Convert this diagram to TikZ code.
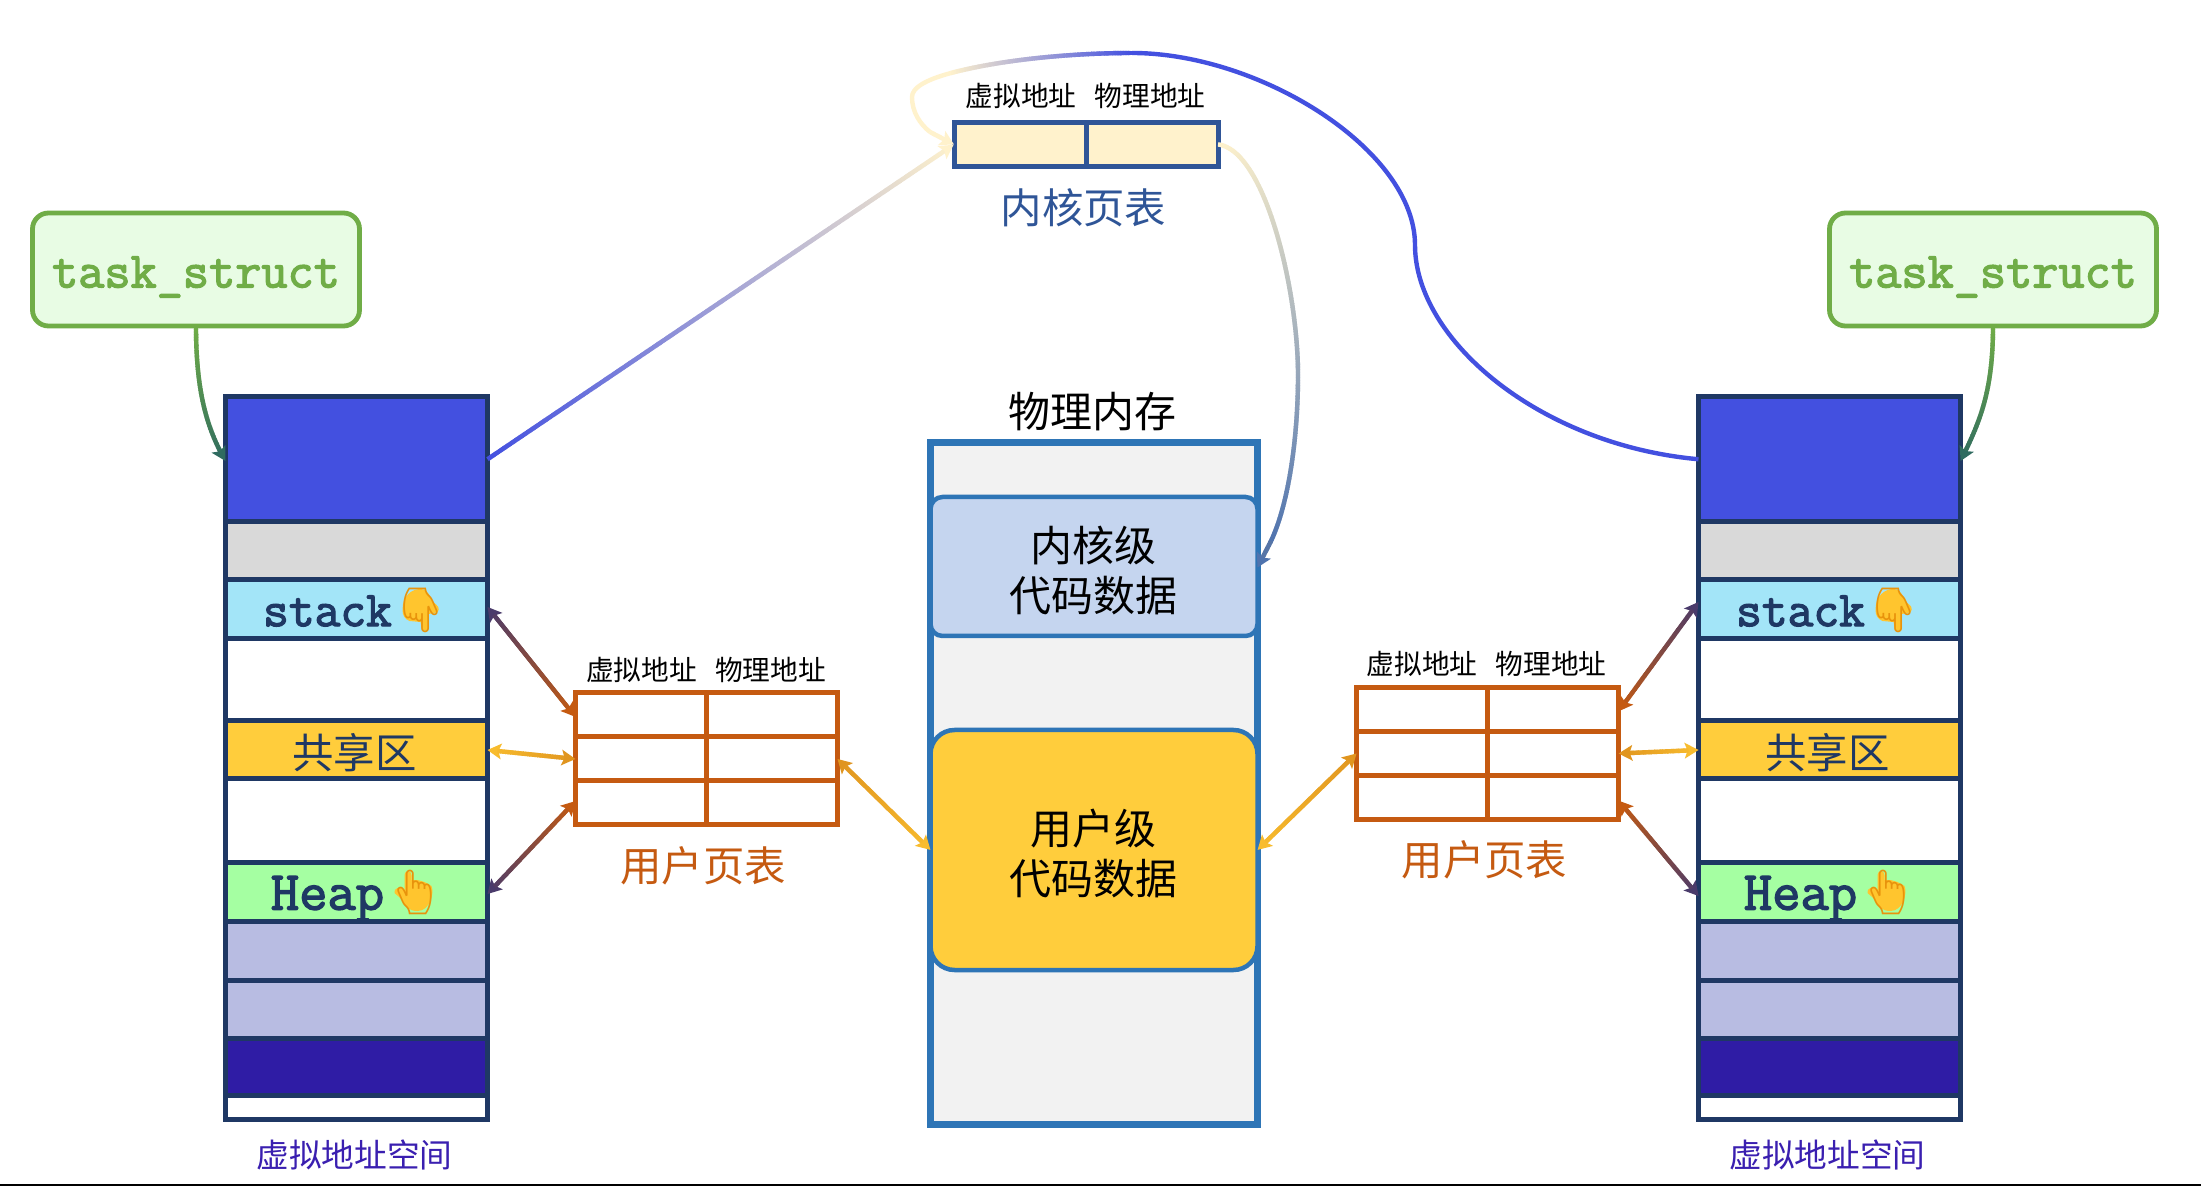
\documentclass[tikz,border=0pt]{standalone}
\usepackage{fontspec}
\usetikzlibrary{decorations.markings}
\setmainfont{Noto Sans CJK SC}
\newfontfamily\slabfont[FakeBold=2.5]{Latin Modern Mono}
\newfontfamily\emojifont{Noto Emoji}
\newcommand{\fs}[1]{\fontsize{#1}{#1}\selectfont}

\definecolor{colframe}{HTML}{1F3864}
\definecolor{tablered}{HTML}{C55A11}
\definecolor{kernelblue}{HTML}{2F5597}
\definecolor{physblue}{HTML}{2E75B6}
\definecolor{taskgreen}{HTML}{70AD47}
\definecolor{taskfill}{HTML}{E8FCE4}
\definecolor{regionblue}{HTML}{4350E0}
\definecolor{regiongray}{HTML}{D9D9D9}
\definecolor{regionstack}{HTML}{A3E5F8}
\definecolor{amber}{HTML}{FFCD3C}
\definecolor{regionheap}{HTML}{A5FFA2}
\definecolor{lavender}{HTML}{B8BCE2}
\definecolor{indigo}{HTML}{2F1CA5}
\definecolor{captionviolet}{HTML}{3A1FB0}
\definecolor{cream}{HTML}{FFF2CC}
\definecolor{physfill}{HTML}{F2F2F2}
\definecolor{kernelfill}{HTML}{C5D5EF}
\definecolor{plum}{HTML}{4A3B6B}
\definecolor{teal}{HTML}{2F6B60}
\definecolor{steel}{HTML}{4F73AE}
\definecolor{linkamber}{HTML}{F8BC2E}
\definecolor{linkorange}{HTML}{E0951F}
\definecolor{handyellow}{HTML}{FFC52E}
\definecolor{handline}{HTML}{E8930C}

\tikzset{
  % one band of a virtual address space
  region/.style={draw=colframe, line width=2.5pt, minimum width=131pt, inner sep=0pt, outer sep=0pt, text=colframe},
  % one cell of a page table
  usercell/.style={draw=tablered, line width=2.5pt, minimum width=65.5pt, minimum height=22pt, inner sep=0pt, outer sep=0pt},
  kernelcell/.style={draw=kernelblue, line width=2.5pt, fill=cream, minimum width=66pt, minimum height=22.2pt, inner sep=0pt, outer sep=0pt},
  taskbox/.style={draw=taskgreen, line width=2.4pt, fill=taskfill, rounded corners=8pt, minimum width=163.5pt, minimum height=56.5pt, inner sep=0pt, outer sep=0pt},
  tasklabel/.style={text=taskgreen, inner sep=0pt, font=\slabfont\fs{25.4}},
  memblock/.style={draw=physblue, line width=2.25pt, minimum width=163.5pt, inner sep=0pt, outer sep=0pt},
  memtext/.style={font=\fs{21}, text=black, inner sep=0pt},
  smallhead/.style={font=\fs{13.85}, text=black, inner sep=0pt},
  bigcaption/.style={font=\fs{20.7}, inner sep=0pt},
  regiontext/.style={font=\slabfont\fs{25}, text=colframe, inner sep=0pt},
  handglyph/.style={font=\emojifont\fs{22}, text=handline, inner sep=0pt},
  % colour run from #1 to #2 with no head
  fade/.style n args={2}{
    decoration={markings,
      mark=between positions 0pt and -0.1pt step 0.8pt with {
        \pgfmathsetmacro\flowmix{100*(\pgfkeysvalueof{/pgf/decoration/mark info/distance from start}/\pgfdecoratedpathlength)}
        \draw[line width=2.2pt, color={#2!\flowmix!#1}] (0,0) -- (1.2pt,0);
      }
    }, postaction={decorate}},
  % connector whose colour runs from #1 to #2, with an arrow head at its end
  flow/.style n args={2}{
    decoration={markings,
      mark=between positions 0pt and -5pt step 0.8pt with {
        \pgfmathsetmacro\flowmix{100*(\pgfkeysvalueof{/pgf/decoration/mark info/distance from start}/\pgfdecoratedpathlength)}
        \draw[line width=2.2pt, color={#2!\flowmix!#1}] (0,0) -- (1.2pt,0);
      },
      mark=at position 0.999 with {\fill[color=#2] (0,0) -- (-7pt,4pt) -- (-5.5pt,0) -- (-7pt,-4pt) -- cycle;}
    }, postaction={decorate}},
  % the same, with a head at both ends
  flowboth/.style n args={2}{
    decoration={markings,
      mark=at position 0 with {\fill[color=#1] (0,0) -- (7pt,4pt) -- (5.5pt,0) -- (7pt,-4pt) -- cycle;},
      mark=between positions 5pt and -5pt step 0.8pt with {
        \pgfmathsetmacro\flowmix{100*(\pgfkeysvalueof{/pgf/decoration/mark info/distance from start}/\pgfdecoratedpathlength)}
        \draw[line width=2.2pt, color={#2!\flowmix!#1}] (0,0) -- (1.2pt,0);
      },
      mark=at position 0.999 with {\fill[color=#2] (0,0) -- (-7pt,4pt) -- (-5.5pt,0) -- (-7pt,-4pt) -- cycle;}
    }, postaction={decorate}},
  % solid fills behind the hand glyphs
  pics/palmdown/.style={code={
    \fill[handyellow] (-18,0) .. controls (-18,-14) and (-9,-21) .. (0,-21)
      .. controls (9,-21) and (10,-9) .. (15,-6) .. controls (20,-3) and (19,3) .. (14,3)
      -- (8,4) -- (8,17) .. controls (8,22) and (2,22) .. (1,17) -- (0,12) -- (-11,11) .. controls (-16,9) and (-18,5) .. (-18,0) -- cycle;
  }},
  pics/palmup/.style={code={
    \fill[handyellow] (-10,-17) .. controls (-10,-22) and (-3,-22) .. (-3,-17) -- (-3,-12) -- (3,-12) -- (10,-10) -- (17,-6)
      .. controls (20,2) and (15,19) .. (3,19) .. controls (-6,19) and (-10,14) .. (-12,8) -- (-20,1)
      .. controls (-21,-4) and (-15,-6) .. (-10,-2) -- cycle;
  }},
}

\begin{document}
\begin{tikzpicture}[x=0.5pt,y=-0.5pt]
\useasboundingbox[fill=white] (0,0) rectangle (2201,1186);

% rule along the lower edge
\fill[black] (0,1184) rectangle (2201,1186);

% the two virtual address spaces and their task_struct boxes
\foreach \s/\cx/\tx in {l/356.5/196, r/1829.5/1993} {
  \node[taskbox] (\s task) at (\tx,269.5) {};
  \node[tasklabel] (\s tasklabel) at (\tx,277) {task\_struct};
  \node[region, fill=regionblue, minimum height=62.75pt] (\s kern) at (\cx,459.25) {};
  \node[region, fill=regiongray, minimum height=29pt] (\s gap) at (\cx,551) {};
  \node[region, fill=regionstack, minimum height=29.5pt] (\s stack) at (\cx,609.5) {};
  \node[region, fill=white, minimum height=41pt] (\s freea) at (\cx,680) {};
  \node[region, fill=amber, minimum height=29pt] (\s shared) at (\cx,750) {};
  \node[region, fill=white, minimum height=42pt] (\s freeb) at (\cx,821) {};
  \node[region, fill=regionheap, minimum height=29pt] (\s heap) at (\cx,892) {};
  \node[region, fill=lavender, minimum height=29.5pt] (\s bss) at (\cx,950.5) {};
  \node[region, fill=lavender, minimum height=29pt] (\s data) at (\cx,1009) {};
  \node[region, fill=indigo, minimum height=28.5pt] (\s text) at (\cx,1066.5) {};
  \node[region, fill=white, minimum height=12.25pt] (\s tail) at (\cx,1107.25) {};

  \node[regiontext] (\s stacklabel) at (\cx-29,611) {stack};
  \pic at (\cx+64,610) {palmdown};
  \node[handglyph] (\s stackhand) at (\cx+64,610) {👇};
  \node[regiontext, font=\slabfont\fs{27.5}] (\s heaplabel) at (\cx-29,899) {Heap};
  \pic at (\cx+58,892) {palmup};
  \node[handglyph] (\s heaphand) at (\cx+58,892) {👆};
  \node[bigcaption, text=colframe] (\s sharedlabel) at (\cx-2,753) {共享区};
  \node[font=\fs{16.35}, text=captionviolet, inner sep=0pt] (\s caption) at (\cx-2,1155) {虚拟地址空间};
}

% left user page table
\foreach \r/\y in {1/715, 2/759, 3/803} {
  \node[usercell] (lta\r) at (641,\y) {};
  \node[usercell] (ltb\r) at (772,\y) {};
}
\node[smallhead] (ltheada) at (641.5,670) {虚拟地址};
\node[smallhead] (ltheadb) at (770.5,670) {物理地址};
\node[bigcaption, text=tablered] (ltcaption) at (703,866) {用户页表};

% right user page table
\foreach \r/\y in {1/709.5, 2/753.5, 3/797.5} {
  \node[usercell] (rta\r) at (1422,\y) {};
  \node[usercell] (rtb\r) at (1553,\y) {};
}
\node[smallhead] (rtheada) at (1422,663.5) {虚拟地址};
\node[smallhead] (rtheadb) at (1551,663.5) {物理地址};
\node[bigcaption, text=tablered] (rtcaption) at (1484.5,860) {用户页表};

% kernel page table
\node[kernelcell] (kta) at (1020,144.5) {};
\node[kernelcell] (ktb) at (1152,144.5) {};
\node[smallhead] (ktheada) at (1021,96) {虚拟地址};
\node[smallhead] (ktheadb) at (1150,96) {物理地址};
\node[bigcaption, text=kernelblue] (ktcaption) at (1083.5,208) {内核页表};

% physical memory
\node[draw=physblue, line width=3.3pt, fill=physfill, minimum width=163.5pt, minimum height=341pt, inner sep=0pt, outer sep=0pt] (phys) at (1094,783.5) {};
\node[memtext] (physcaption) at (1092,412) {物理内存};
\node[memblock, fill=kernelfill, rounded corners=6pt, minimum height=69.5pt] (kmem) at (1094,566.5) {};
\node[memblock, fill=amber, rounded corners=12pt, minimum height=120pt] (umem) at (1094,850) {};
\node[memtext] (kmema) at (1093,546) {内核级};
\node[memtext] (kmemb) at (1093,596) {代码数据};
\node[memtext] (umema) at (1093,829) {用户级};
\node[memtext] (umemb) at (1093,879) {代码数据};

% task_struct to its address space
\path[flow={taskgreen}{teal}] (ltask.south) .. controls (196,395) and (208,430) .. ([yshift=-1pt]lkern.west);
\path[flow={taskgreen}{teal}] (rtask.south) .. controls (1993,395) and (1978,425) .. ([yshift=-1pt]rkern.east);

% address space regions to the user page tables
\path[flowboth={plum}{tablered}] ([yshift=1.25pt]lstack.east) -- ([yshift=-1pt]lta1.west);
\path[flowboth={linkamber}{linkorange}] (lshared.east) -- (lta2.west);
\path[flowboth={plum}{tablered}] ([yshift=-1pt]lheap.east) -- ([yshift=1pt]lta3.west);
\path[flowboth={plum}{tablered}] ([yshift=3.75pt]rstack.west) -- ([yshift=-1pt]rtb1.east);
\path[flowboth={linkamber}{linkorange}] (rshared.west) -- (rtb2.east);
\path[flowboth={plum}{tablered}] ([yshift=-2pt]rheap.west) -- ([yshift=-1.5pt]rtb3.east);

% user page tables to user memory
\path[flowboth={linkorange}{linkamber}] (ltb2.east) -- (umem.west);
\path[flowboth={linkorange}{linkamber}] (rta2.west) -- (umem.east);

% kernel mapping of the left address space
\path[flow={regionblue}{cream}] (lkern.east) -- (kta.west);

% kernel mapping of the right address space: solid run, fade, hook, then the last straight stretch with the head
\coordinate (apex) at (1132,53);
\coordinate (bend) at (1415,245);
\coordinate (faded) at (951,73);
\coordinate (hook) at (912,97);
\coordinate (lead) at (930,132);
\draw[regionblue, line width=2.2pt] (rkern.west) .. controls (1540,445) and (1415,340) .. (bend)
  .. controls (1415,150) and (1260,53) .. (apex);
\path[fade={regionblue}{cream}] (apex) .. controls (1070,53) and (1000,60) .. (faded);
\draw[cream, line width=2.2pt] (faded) .. controls (925,80) and (912,88) .. (hook)
  .. controls (912,112) and (920,124) .. (lead);
\path[flow={cream}{cream}] (lead) -- (kta.west);

% physical address column to kernel memory, ending in a straight stretch with the head
\coordinate (sweep) at (1298,375);
\coordinate (approach) at (1271,541);
\path[fade={cream}{steel}] (ktb.east) .. controls (1265,150) and (1298,290) .. (sweep)
  .. controls (1298,440) and (1288,505) .. (approach);
\path[flow={steel!85!gray}{steel}] (approach) -- ([yshift=-0.5pt]kmem.east);
\end{tikzpicture}
\end{document}
